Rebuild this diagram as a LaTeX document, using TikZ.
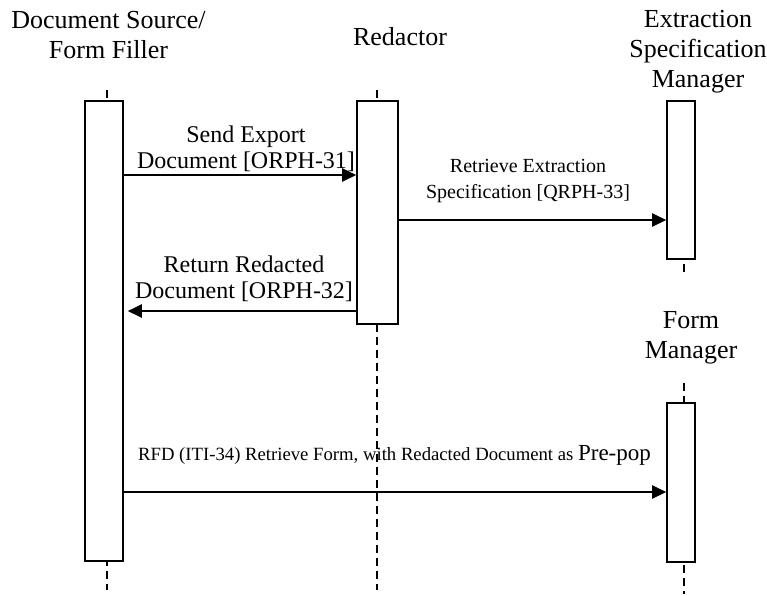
\documentclass[tikz,border=0pt]{standalone}
\usepackage{fontspec}
\setmainfont{Liberation Serif}
\usetikzlibrary{arrows.meta}
\begin{document}
\begin{tikzpicture}[x=1pt,y=-1pt,
  actbox/.style={draw, line width=1.6pt, fill=white, inner sep=0pt},
  lifeline/.style={line width=1.3pt, dash pattern=on 8pt off 5pt},
  msg/.style={line width=2.4pt, -{Triangle[length=14pt,width=13pt]}},
  title/.style={font=\fontsize{26}{30}\selectfont, align=center, anchor=base, inner sep=0pt},
  lab/.style={font=\fontsize{24}{26}\selectfont, align=center, anchor=base, inner sep=0pt},
  labs/.style={font=\fontsize{20}{26}\selectfont, align=center, anchor=base, inner sep=0pt}]
\useasboundingbox[fill=white] (0,0) rectangle (767,595);

% lifeline anchor points
\coordinate (dsTop) at (107,90);
\coordinate (dsBot) at (107,590);
\coordinate (rdTop) at (377,90);
\coordinate (rdBot) at (377,590);
\coordinate (esBot) at (684,272);
\coordinate (fmTop) at (684,383);
\coordinate (fmBot) at (684,594);

% lifelines
\draw[lifeline] (dsTop) -- (dsBot);
\draw[lifeline] (rdTop) -- (rdBot);
\draw[lifeline] (684,264) -- (esBot);
\draw[lifeline] (fmTop) -- (fmBot);

% activation boxes
\node[actbox, minimum width=38pt, minimum height=460pt] (dsbox) at (104,331) {};
\node[actbox, minimum width=41pt, minimum height=223pt] (rdbox) at (377.5,212.5) {};
\node[actbox, minimum width=28pt, minimum height=158pt] (esbox) at (681,180) {};
\node[actbox, minimum width=28pt, minimum height=159pt] (fmbox) at (681,482.5) {};

% participant titles (base = baseline of last line)
\node[title] (dsf) at (108.5,58) {Document Source/\\Form Filler};
\node[title] (red) at (400,45) {Redactor};
\node[title] (esm) at (698,87) {Extraction\\Specification\\Manager};
\node[title] (fm) at (691,358) {Form\\Manager};

% message labels
\node[lab] (m1) at (246,168) {Send Export\\Document [ORPH-31]};
\node[labs] (m2) at (528,198) {Retrieve Extraction\\Specification [QRPH-33]};
\node[lab] (m3) at (244,298) {Return Redacted\\Document [ORPH-32]};
\node[anchor=base west, inner sep=0pt] (m4) at (138,460)
  {\fontsize{18.7}{22}\selectfont RFD (ITI-34) Retrieve Form, with Redacted Document as {\fontsize{23}{26}\selectfont Pre-pop}};

% messages
\draw[msg] (dsbox.east |- 0,175) -- (rdbox.west |- 0,175);
\draw[msg] (rdbox.east |- 0,220) -- (esbox.west |- 0,220);
\draw[msg] (rdbox.west |- 0,311) -- ([xshift=4pt]dsbox.east |- 0,311);
\draw[msg] (dsbox.east |- 0,492) -- (fmbox.west |- 0,492);
\end{tikzpicture}
\end{document}
